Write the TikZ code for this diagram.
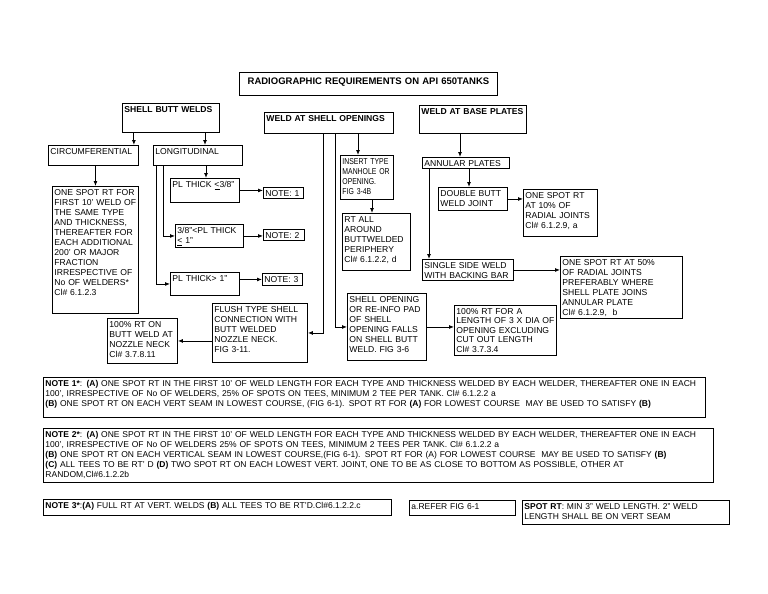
\documentclass[tikz,border=0pt]{standalone}
\usepackage{fontspec}
\setmainfont{Liberation Sans}
\usetikzlibrary{arrows.meta}
\tikzset{
  box/.style={draw=black, line width=0.9pt, anchor=north west, inner xsep=2pt, inner ysep=1.5pt, text height=7.5pt, align=left, font=\fontsize{8.6}{10}\selectfont},
  head/.style={box, font=\fontsize{8.6}{10}\selectfont\bfseries},
  notebox/.style={box, font=\fontsize{8.5}{10}\selectfont},
  link/.style={line width=0.9pt, draw=black, -{Latex[length=5pt,width=4pt]}},
}

\begin{document}
\begin{tikzpicture}[x=1pt,y=-1pt]
\useasboundingbox (0,0) rectangle (768,594);
\node[box, align=center, text width=254pt, text height=11pt, text depth=9pt, font=\fontsize{9.5}{11}\selectfont\bfseries] (title) at (239,72) {RADIOGRAPHIC REQUIREMENTS ON API 650TANKS};
\node[head, text width=93pt, text depth=18.5pt] (sbw) at (122,103) {SHELL BUTT WELDS};
\node[head, text width=125pt, text depth=10.5pt] (wso) at (264,112) {WELD AT SHELL OPENINGS};
\node[head, text width=103pt, text depth=17.5pt] (wbp) at (419,105) {WELD AT BASE PLATES};
\node[box, text width=86pt, text depth=9.5pt] (circ) at (48,145) {CIRCUMFERENTIAL};
\node[box, text width=85pt, text depth=9.5pt] (long) at (153,145) {LONGITUDINAL};
\node[box, text width=82pt, text depth=116.5pt] (ctext) at (52,186) {ONE SPOT RT FOR\\FIRST 10' WELD OF\\THE SAME TYPE\\AND THICKNESS,\\THEREAFTER FOR\\EACH ADDITIONAL\\200' OR MAJOR\\FRACTION\\IRRESPECTIVE OF\\No OF WELDERS*\\Cl\# 6.1.2.3};
\node[box, text width=65pt, text depth=13.5pt] (le) at (170,178) {PL THICK \underline{<}3/8"};
\node[box, text width=64pt, text depth=12.5pt] (mid) at (175,224) {3/8"<PL THICK\\\underline{<} 1"};
\node[box, text width=65pt, text depth=12.5pt] (ge) at (170,272) {PL THICK> 1"};
\node[box, text width=36pt, text depth=0.5pt] (n1) at (263,187) {NOTE: 1};
\node[box, text width=37pt, text depth=0.5pt] (n2) at (263,229) {NOTE: 2};
\node[box, text width=36pt, text depth=1.5pt] (n3) at (262,273) {NOTE: 3};
\node[box, text width=49pt, text depth=33.5pt, font=\fontsize{8.6}{10}\selectfont\addfontfeature{FakeStretch=0.8}] (ins) at (340,155) {INSERT TYPE\\MANHOLE OR\\OPENING.\\FIG 3-4B};
\node[box, text width=64pt, text depth=46.5pt] (rtall) at (342,213) {RT ALL\\AROUND\\BUTTWELDED\\PERIPHERY\\Cl\# 6.1.2.2, d};
\node[box, text width=91pt, text depth=48.5pt] (flush) at (212,303) {FLUSH TYPE SHELL\\CONNECTION WITH\\BUTT WELDED\\NOZZLE NECK.\\FIG 3-11.};
\node[box, text width=66pt, text depth=34.5pt] (noz) at (107,318) {100\% RT ON\\BUTT WELD AT\\NOZZLE NECK\\Cl\# 3.7.8.11};
\node[box, text width=75pt, text depth=56.5pt] (shop) at (347,293) {SHELL OPENING\\OR RE-INFO PAD\\OF SHELL\\OPENING FALLS\\ON SHELL BUTT\\WELD. FIG 3-6};
\node[box, text width=98pt, text depth=39.5pt, font=\fontsize{8.6}{9.5}\selectfont] (lenx) at (454,305) {100\% RT FOR A\\LENGTH OF 3 X DIA OF\\OPENING EXCLUDING\\CUT OUT LENGTH\\Cl\# 3.7.3.4};
\node[box, text width=83pt, text depth=0.5pt] (ann) at (422,157) {ANNULAR PLATES};
\node[box, text width=65pt, text depth=12.5pt] (dbl) at (438,187) {DOUBLE BUTT\\WELD JOINT};
\node[box, text width=70pt, text depth=36.5pt] (pct10) at (523,189) {ONE SPOT RT\\AT 10\% OF\\RADIAL JOINTS\\Cl\# 6.1.2.9, a};
\node[box, text width=87pt, text depth=10.5pt] (ss) at (422,259) {SINGLE SIDE WELD\\WITH BACKING BAR};
\node[box, text width=118pt, text depth=51.5pt] (pct50) at (560,256) {ONE SPOT RT AT 50\%\\OF RADIAL JOINTS\\PREFERABLY WHERE\\SHELL PLATE JOINS\\ANNULAR PLATE\\Cl\# 6.1.2.9,~ b};
\node[notebox, text width=658pt, text depth=29.5pt] (note1) at (43,377) {\textbf{NOTE 1*}: \textbf{(A)} ONE SPOT RT IN THE FIRST 10' OF WELD LENGTH FOR EACH TYPE AND THICKNESS WELDED BY EACH WELDER, THEREAFTER ONE IN EACH\\100', IRRESPECTIVE OF No OF WELDERS, 25\% OF SPOTS ON TEES, MINIMUM 2 TEE PER TANK. Cl\# 6.1.2.2 a\\\textbf{(B)} ONE SPOT RT ON EACH VERT SEAM IN LOWEST COURSE, (FIG 6-1). SPOT RT FOR \textbf{(A)} FOR LOWEST COURSE ~MAY BE USED TO SATISFY \textbf{(B)}};
\node[notebox, text width=666pt, text depth=43.5pt] (note2) at (43,428) {\textbf{NOTE 2*}: \textbf{(A)} ONE SPOT RT IN THE FIRST 10' OF WELD LENGTH FOR EACH TYPE AND THICKNESS WELDED BY EACH WELDER, THEREAFTER ONE IN EACH\\100', IRRESPECTIVE OF No OF WELDERS 25\% OF SPOTS ON TEES, MINIMUM 2 TEES PER TANK. Cl\# 6.1.2.2 a\\\textbf{(B)} ONE SPOT RT ON EACH VERTICAL SEAM IN LOWEST COURSE,(FIG 6-1). SPOT RT FOR (A) FOR LOWEST COURSE ~MAY BE USED TO SATISFY \textbf{(B)}\\\textbf{(C)} ALL TEES TO BE RT' D \textbf{(D)} TWO SPOT RT ON EACH LOWEST VERT. JOINT, ONE TO BE AS CLOSE TO BOTTOM AS POSSIBLE, OTHER AT\\RANDOM,Cl\#6.1.2.2b};
\node[notebox, text width=344pt, text depth=5.5pt] (note3) at (43,499) {\textbf{NOTE 3*}:\textbf{(A)} FULL RT AT VERT. WELDS \textbf{(B)} ALL TEES TO BE RT'D.Cl\#6.1.2.2.c};
\node[notebox, text width=102pt, text depth=4.5pt] (refer) at (409,500) {a.REFER FIG 6-1};
\node[notebox, text width=203pt, text depth=13.5pt] (spot) at (522,500) {\textbf{SPOT RT}: MIN 3" WELD LENGTH. 2" WELD\\LENGTH SHALL BE ON VERT SEAM};
\draw[link] ([xshift=-5pt]circ.north east |- sbw.south) -- ([xshift=-5pt]circ.north east);
\draw[link] ([xshift=52pt]long.north west |- sbw.south) -- ([xshift=52pt]long.north west);
\draw[link] (circ.south -| ctext.north) -- (ctext.north);
\draw[link] ([xshift=36pt]le.north west |- long.south) -- ([xshift=36pt]le.north west);
\draw[link] ([xshift=10pt]long.south west) |- (mid.west);
\draw[link] ([xshift=3pt]long.south west) |- (ge.west);
\draw[link] (le.east) -- (le.east -| n1.west);
\draw[link] (mid.east) -- (mid.east -| n2.west);
\draw[link] (ge.east |- n3.west) -- (n3.west);
\draw[link] ([xshift=18pt]ins.north west |- wso.south) -- ([xshift=18pt]ins.north west);
\draw[link] ([xshift=30pt]rtall.north west |- ins.south) -- ([xshift=30pt]rtall.north west);
\draw[link] ([xshift=59pt]wso.south west) |- (flush.east);
\draw[link] ([xshift=71pt]wso.south west) |- (shop.west);
\draw[link] (flush.west |- noz.east) -- (noz.east);
\draw[link] (shop.east) -- (shop.east -| lenx.west);
\draw[link] ([xshift=38pt]ann.north west |- wbp.south) -- ([xshift=38pt]ann.north west);
\draw[link] ([xshift=31pt]dbl.north west |- ann.south) -- ([xshift=31pt]dbl.north west);
\draw[link] (dbl.east) -- (dbl.east -| pct10.west);
\draw[link] ([xshift=7pt]ann.south west) -- ([xshift=7pt]ss.north west);
\draw[link] (ss.east) -- (ss.east -| pct50.west);
\end{tikzpicture}
\end{document}
